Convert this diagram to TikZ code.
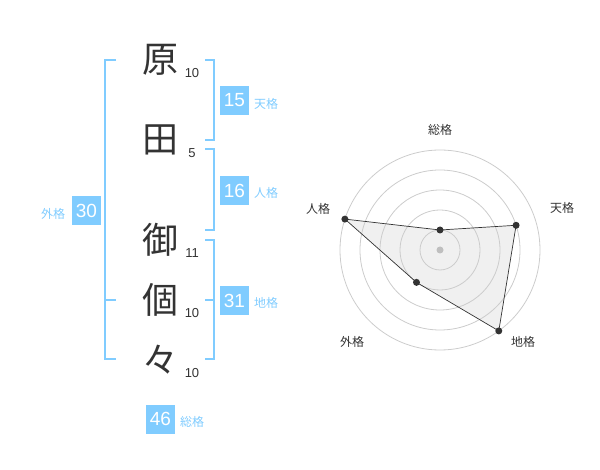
\documentclass[tikz,border=0pt]{standalone}
\usepackage{fontspec}
\setmainfont{Liberation Sans}
\newfontfamily\jpfont{Noto Sans CJK JP}
\definecolor{kakublue}{HTML}{80CCFF}
\definecolor{inkgray}{HTML}{333333}
\tikzset{
    bracket/.style={kakublue,line width=2pt},
    kanji/.style={inkgray,font=\jpfont\fontsize{36}{36}\selectfont},
    strokes/.style={inkgray,font=\fontsize{13}{13}\selectfont},
    kakubox/.style={fill=kakublue,text=white,minimum size=29pt,inner sep=0pt,font=\fontsize{19}{19}\selectfont},
    kakulabel/.style={kakublue,font=\jpfont\fontsize{12}{12}\selectfont},
    axislabel/.style={inkgray,font=\jpfont\fontsize{12}{12}\selectfont},
    ring/.style={black!20,line width=0.8pt},
    dot/.style={circle,fill=inkgray,inner sep=0pt,minimum size=7pt}}

\begin{document}
\begin{tikzpicture}[x=1pt,y=-1pt]
      \useasboundingbox (0,0) rectangle (600,470);
      % name and stroke counts
      \foreach \c/\y/\n [count=\i] in {原/60/10,田/140/5,御/240/11,個/300/10,々/360/10}
      {\node[kanji] (k\i) at (160,\y) {\c};
       \node[strokes] (n\i) at (192,\y+13) {\n};}
      % brackets
      \draw[bracket] (205,60) -- (214,60) -- (214,140) -- (205,140);
      \draw[bracket] (205,149) -- (214,149) -- (214,230) -- (205,230);
      \draw[bracket] (205,240) -- (214,240) -- (214,359) -- (205,359);
      \draw[bracket] (205,300) -- (214,300);
      \draw[bracket] (116,60) -- (105,60) -- (105,359) -- (116,359);
      \draw[bracket] (105,300) -- (116,300);
      % scores
      \node[kakubox] (ten) at (234.5,100.5) {15};
      \node[kakulabel] (tenl) at (266,104) {天格};
      \node[kakubox] (jin) at (234.5,190.5) {16};
      \node[kakulabel] (jinl) at (266,193) {人格};
      \node[kakubox] (chi) at (234.5,300.5) {31};
      \node[kakulabel] (chil) at (266,303) {地格};
      \node[kakubox] (gai) at (86.5,210.5) {30};
      \node[kakulabel] (gail) at (53,214) {外格};
      \node[kakubox] (sou) at (160.5,419) {46};
      \node[kakulabel] (soul) at (192,422) {総格};
      % radar
      \begin{scope}[shift={(440,250)},y=1pt]
        \coordinate (p1) at (90:20);
        \coordinate (p2) at (18:80);
        \coordinate (p3) at (-54:100);
        \coordinate (p4) at (-126:40);
        \coordinate (p5) at (162:100);
        \fill[black!6] (p1) -- (p2) -- (p3) -- (p4) -- (p5) -- cycle;
        \foreach \r in {20,40,60,80,100}
        {\draw[ring] (0,0) circle (\r);}
        \fill[black!25] (0,0) circle (3.5);
        \draw[inkgray,line width=0.7pt] (p1) -- (p2) -- (p3) -- (p4) -- (p5) -- cycle;
        \foreach \i in {1,...,5}
        {\node[dot] (d\i) at (p\i) {};}
      \end{scope}
      \node[axislabel] (a1) at (440,130) {総格};
      \node[axislabel] (a2) at (562,208) {天格};
      \node[axislabel] (a3) at (523,342) {地格};
      \node[axislabel] (a4) at (352,342) {外格};
      \node[axislabel] (a5) at (318,209) {人格};
\end{tikzpicture}
\end{document}
